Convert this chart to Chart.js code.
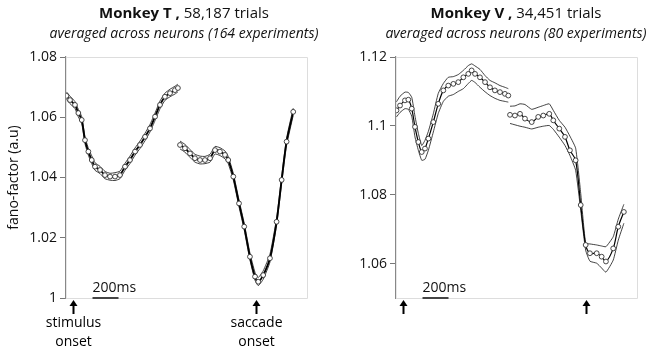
<!DOCTYPE html>
<html>
<head>
<meta charset="utf-8">
<script src="https://cdn.jsdelivr.net/npm/chart.js@4"></script>
<style>
  body { margin: 0; background: #fff; }
  #wrap { position: relative; width: 652px; height: 354px; font-family: "Open Sans", sans-serif; color: #111; }
  canvas { position: absolute; top: 0; }
  .ttl { position: absolute; top: 2px; width: 326px; text-align: center; font-size: 15px; line-height: 20px; }
  .sub { position: absolute; top: 23px; width: 326px; text-align: center; font-size: 14px; font-style: italic; line-height: 20px; }
</style>
</head>
<body>
<div id="wrap">
  <canvas id="chartT" width="326" height="354" style="left:0"></canvas>
  <canvas id="chartV" width="326" height="354" style="left:326px"></canvas>
  <div class="ttl" style="left:21px"><b>Monkey T ,</b> 58,187 trials</div>
  <div class="sub" style="left:21px">averaged across neurons (164 experiments)</div>
  <div class="ttl" style="left:353px"><b>Monkey V ,</b> 34,451 trials</div>
  <div class="sub" style="left:353px">averaged across neurons (80 experiments)</div>
</div>
<script>
// ---- Monkey T : stimulus aligned (ms from stimulus onset) ----
const tStimT = [-50, -23, 15, 41, 67, 92, 118, 144, 169, 208, 246, 285, 323, 361, 400, 438, 477, 515, 554, 592, 631, 669, 707, 746, 784, 807];
const meanStimT = [1.0671, 1.0657, 1.0641, 1.0614, 1.0591, 1.0524, 1.0486, 1.0458, 1.0436, 1.0425, 1.0408, 1.0403, 1.0403, 1.0408, 1.0436, 1.0458, 1.0486, 1.0508, 1.0535, 1.0563, 1.0602, 1.0641, 1.0668, 1.0680, 1.0690, 1.0697];
const upperStimT = [1.0684, 1.0670, 1.0652, 1.0626, 1.0602, 1.0535, 1.0497, 1.0472, 1.0449, 1.0437, 1.0420, 1.0414, 1.0416, 1.0421, 1.0447, 1.0471, 1.0498, 1.0521, 1.0547, 1.0576, 1.0614, 1.0654, 1.0680, 1.0693, 1.0703, 1.0710];
const lowerStimT = [1.0659, 1.0645, 1.0629, 1.0601, 1.0579, 1.0512, 1.0474, 1.0446, 1.0424, 1.0413, 1.0396, 1.0391, 1.0390, 1.0396, 1.0424, 1.0446, 1.0474, 1.0496, 1.0522, 1.0551, 1.0589, 1.0628, 1.0656, 1.0668, 1.0677, 1.0684];

// ---- Monkey T : saccade aligned (ms from saccade onset) ----
const tSaccT = [-585, -547, -508, -470, -431, -393, -354, -316, -278, -239, -214, -175, -131, -91, -47, -8, 17, 55, 107, 158, 197, 235, 286];
const meanSaccT = [1.0508, 1.0497, 1.0480, 1.0464, 1.0458, 1.0458, 1.0464, 1.0491, 1.0486, 1.0475, 1.0458, 1.0403, 1.0314, 1.0237, 1.0137, 1.0071, 1.0054, 1.0076, 1.0132, 1.0253, 1.0392, 1.0519, 1.0618];
const upperSaccT = [1.0521, 1.0510, 1.0493, 1.0477, 1.0471, 1.0470, 1.0477, 1.0503, 1.0499, 1.0488, 1.0470, 1.0414, 1.0325, 1.0248, 1.0149, 1.0085, 1.0068, 1.0090, 1.0145, 1.0265, 1.0404, 1.0531, 1.0630];
const lowerSaccT = [1.0495, 1.0484, 1.0467, 1.0451, 1.0445, 1.0446, 1.0451, 1.0478, 1.0473, 1.0462, 1.0446, 1.0392, 1.0303, 1.0226, 1.0126, 1.0059, 1.0041, 1.0062, 1.0119, 1.0241, 1.0380, 1.0507, 1.0606];

// ---- Monkey V : stimulus aligned ----
const tStimV = [-50, -23, 15, 41, 67, 92, 118, 144, 169, 195, 233, 271, 310, 348, 387, 425, 464, 502, 528, 554, 592, 631, 669, 707, 746, 784, 810];
const meanStimV = [1.1045, 1.1059, 1.1074, 1.1076, 1.1050, 1.0997, 1.0953, 1.0924, 1.0934, 1.0963, 1.1011, 1.1064, 1.1103, 1.1117, 1.1122, 1.1127, 1.1141, 1.1151, 1.1161, 1.1151, 1.1141, 1.1127, 1.1112, 1.1103, 1.1098, 1.1093, 1.1088];
const upperStimV = [1.1070, 1.1086, 1.1098, 1.1097, 1.1083, 1.1028, 1.0978, 1.0943, 1.0958, 1.0984, 1.1035, 1.1094, 1.1123, 1.1141, 1.1143, 1.1149, 1.1161, 1.1175, 1.1180, 1.1174, 1.1164, 1.1146, 1.1132, 1.1125, 1.1117, 1.1112, 1.1108];
const lowerStimV = [1.1026, 1.1039, 1.1050, 1.1048, 1.1028, 1.0968, 1.0929, 1.0900, 1.0903, 1.0929, 1.0982, 1.1036, 1.1071, 1.1086, 1.1091, 1.1100, 1.1108, 1.1123, 1.1132, 1.1126, 1.1112, 1.1099, 1.1088, 1.1080, 1.1074, 1.1071, 1.1069];

// ---- Monkey V : saccade aligned ----
const tSaccV = [-585, -547, -508, -470, -418, -368, -329, -283, -252, -206, -162, -124, -80, -41, -3, 30, 82, 120, 153, 209, 248, 291];
const meanSaccV = [1.1032, 1.1030, 1.1035, 1.1021, 1.1011, 1.1026, 1.1030, 1.1035, 1.1016, 1.0992, 1.0968, 1.0929, 1.0900, 1.0770, 1.0654, 1.0630, 1.0630, 1.0620, 1.0606, 1.0644, 1.0707, 1.0750];
const upperSaccV = [1.1057, 1.1058, 1.1064, 1.1062, 1.1048, 1.1054, 1.1059, 1.1064, 1.1045, 1.1016, 1.0996, 1.0970, 1.0935, 1.0804, 1.0659, 1.0657, 1.0654, 1.0651, 1.0649, 1.0678, 1.0729, 1.0772];
const lowerSaccV = [1.1007, 1.1003, 1.0999, 1.0996, 1.0991, 1.0996, 1.0999, 1.1001, 1.0990, 1.0967, 1.0943, 1.0914, 1.0871, 1.0755, 1.0639, 1.0607, 1.0601, 1.0587, 1.0575, 1.0610, 1.0668, 1.0717];

const yTicksT = [1, 1.02, 1.04, 1.06, 1.08];
const yTicksV = [1.06, 1.08, 1.1, 1.12];

// where the saccade-aligned block sits on the shared time axis
const SACC_POS = 1408;
const SCALE_BAR_START = 150; // ms, 200ms bar

function pts(times, vals, offset) {
    return times.map((t, i) => ({ x: t + offset, y: vals[i] }));
}

function meanSet(times, vals, offset, width) {
    return {
        data: pts(times, vals, offset),
        borderColor: '#000',
        borderWidth: width,
        tension: 0.3,
        pointRadius: 2.4,
        pointBackgroundColor: '#fff',
        pointBorderColor: '#333',
        pointBorderWidth: 0.9
    };
}

function bandSet(times, vals, offset) {
    return {
        data: pts(times, vals, offset),
        borderColor: '#111',
        borderWidth: 0.8,
        tension: 0.15,
        pointRadius: 0
    };
}

// frame, arrows, scale bar and onset labels under the plot
const decorPlugin = {
    id: 'decor',
    afterDraw(chart, args, opts) {
        const { ctx, chartArea: a, scales: { x } } = chart;
        ctx.save();
        ctx.strokeStyle = '#ddd';
        ctx.lineWidth = 1;
        ctx.beginPath();
        ctx.moveTo(a.left, a.top + 0.5);
        ctx.lineTo(a.right + 0.5, a.top + 0.5);
        ctx.lineTo(a.right + 0.5, a.bottom + 0.5);
        ctx.lineTo(a.left, a.bottom + 0.5);
        ctx.stroke();

        // scale bar
        const b0 = x.getPixelForValue(SCALE_BAR_START);
        const b1 = x.getPixelForValue(SCALE_BAR_START + 200);
        ctx.strokeStyle = '#444';
        ctx.lineWidth = 2;
        ctx.beginPath();
        ctx.moveTo(b0, a.bottom);
        ctx.lineTo(b1, a.bottom);
        ctx.stroke();
        ctx.fillStyle = '#111';
        ctx.font = '14px "Open Sans"';
        ctx.textAlign = 'left';
        ctx.textBaseline = 'middle';
        ctx.fillText('200ms', b0, a.bottom - 10);

        // onset arrows
        [0, SACC_POS].forEach((v, i) => {
            const px = Math.round(x.getPixelForValue(v)) + 0.5;
            ctx.strokeStyle = '#000';
            ctx.lineWidth = 2;
            ctx.beginPath();
            ctx.moveTo(px, a.bottom + 16);
            ctx.lineTo(px, a.bottom + 7);
            ctx.stroke();
            ctx.fillStyle = '#000';
            ctx.beginPath();
            ctx.moveTo(px, a.bottom + 2);
            ctx.lineTo(px - 4, a.bottom + 8);
            ctx.lineTo(px + 4, a.bottom + 8);
            ctx.closePath();
            ctx.fill();
            if (opts.labels) {
                ctx.textAlign = 'center';
                ctx.font = '14px "Open Sans"';
                ctx.fillText(opts.labels[i][0], px, a.bottom + 25);
                ctx.fillText(opts.labels[i][1], px, a.bottom + 44);
            }
        });
        ctx.restore();
    }
};

function makeChart(id, sets, yMin, yMax, yTicks, axisWidth, padRight, showTitle, labels) {
    return new Chart(document.getElementById(id), {
        type: 'line',
        data: { datasets: sets },
        options: {
            responsive: false,
            animation: false,
            layout: { padding: { top: 57, bottom: 56, left: 0, right: padRight } },
            plugins: {
                legend: { display: false },
                tooltip: { enabled: false },
                decor: { labels: labels }
            },
            scales: {
                x: { type: 'linear', min: -54, max: 1800, display: false },
                y: {
                    min: yMin,
                    max: yMax,
                    afterFit: (s) => { s.width = axisWidth; },
                    afterBuildTicks: (s) => { s.ticks = yTicks.map(v => ({ value: v })); },
                    ticks: {
                        color: '#111',
                        padding: 3,
                        font: { family: 'Open Sans', size: 14 },
                        callback: (v) => String(Math.round(v * 100) / 100)
                    },
                    grid: { drawOnChartArea: false, drawTicks: true, tickLength: 6, color: '#777' },
                    border: { color: '#888', width: 1.2 },
                    title: {
                        display: showTitle,
                        text: 'fano-factor (a.u)',
                        color: '#111',
                        font: { family: 'Open Sans', size: 14 },
                        padding: { top: 6, bottom: 0 }
                    }
                }
            }
        },
        plugins: [decorPlugin]
    });
}

makeChart('chartT', [
    meanSet(tStimT, meanStimT, 0, 1.8),
    meanSet(tSaccT, meanSaccT, SACC_POS, 1.8),
    bandSet(tStimT, upperStimT, 0),
    bandSet(tStimT, lowerStimT, 0),
    bandSet(tSaccT, upperSaccT, SACC_POS),
    bandSet(tSaccT, lowerSaccT, SACC_POS)
], 1, 1.08, yTicksT, 66, 19, true, [['stimulus', 'onset'], ['saccade', 'onset']]);

makeChart('chartV', [
    meanSet(tStimV, meanStimV, 0, 1.2),
    meanSet(tSaccV, meanSaccV, SACC_POS, 1.2),
    bandSet(tStimV, upperStimV, 0),
    bandSet(tStimV, lowerStimV, 0),
    bandSet(tSaccV, upperSaccV, SACC_POS),
    bandSet(tSaccV, lowerSaccV, SACC_POS)
], 1.05, 1.12, yTicksV, 70, 15, false, null);
</script>
</body>
</html>
